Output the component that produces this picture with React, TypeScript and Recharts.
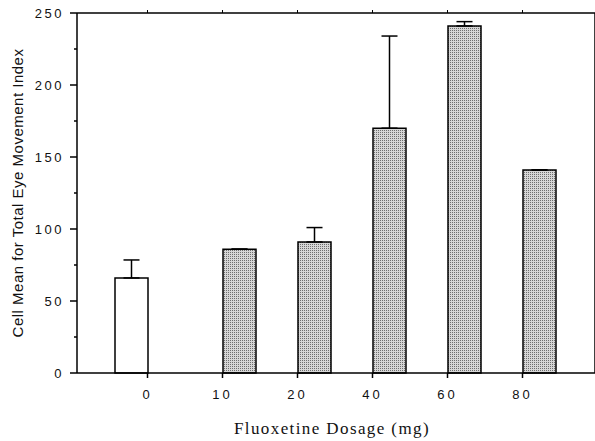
import { BarChart, Bar, XAxis, YAxis, ErrorBar, Label } from 'recharts';

// Fluoxetine dosage groups (mg)
const dosages = ['0', '10', '20', '40', '60', '80'];
// placebo group (white bar) and fluoxetine groups (stippled bars)
const placeboMeans = [66, null, null, null, null, null];
const placeboErrors = [12.5, null, null, null, null, null];
const drugMeans = [null, 86, 91, 170, 241, 141];
const drugErrors = [null, null, 10, 64, 3, null];
const yTicks = [0, 25, 50, 75, 100, 125, 150, 175, 200, 225, 250];

const data = dosages.map((dose, i) => ({
  dose,
  placebo: placeboMeans[i],
  placeboErr: [0, placeboErrors[i] ?? 0],
  drug: drugMeans[i],
  drugErr: [0, drugErrors[i] ?? 0],
}));

const SANS = '"Liberation Sans", Arial, sans-serif';
const SERIF = '"Liberation Serif", "Times New Roman", serif';

const LeftTick = (props: any) => {
  const { x, y, payload } = props;
  const major = payload.value % 50 === 0;
  const axisX = x + 13;
  return (
    <g>
      <line x1={axisX - (major ? 7 : 3)} x2={axisX} y1={y} y2={y} stroke="#000" strokeWidth={1.5} />
      {major && (
        <text x={x} y={y} dy="0.35em" textAnchor="end" fontSize={13} fontFamily={SANS} letterSpacing={2.5} fill="#111">
          {payload.value}
        </text>
      )}
    </g>
  );
};

const App = () => {
  return (
    <div style={{ position: 'absolute', left: 0, top: 0, background: '#fff' }}>
      <svg width={0} height={0} style={{ position: 'absolute' }}>
        <defs>
          <pattern id="stipple" width={2} height={2} patternUnits="userSpaceOnUse">
            <rect width={2} height={2} fill="#d6d6d6" />
            <rect width={1} height={1} fill="#6e6e6e" />
          </pattern>
        </defs>
      </svg>
      <BarChart
        width={595}
        height={441}
        data={data}
        margin={{ top: 12, right: 0, bottom: 0, left: 0 }}
        barSize={33}
        barGap={0}
      >
        <XAxis
          dataKey="dose"
          height={68}
          padding={{ left: 33, right: 35 }}
          axisLine={{ stroke: '#000', strokeWidth: 1.5 }}
          tickLine={{ stroke: '#000', strokeWidth: 1.5 }}
          tickSize={5}
          tickMargin={12}
          tick={{ fill: '#111', fontSize: 13, fontFamily: SANS, letterSpacing: 3 }}
        >
          <Label
            value="Fluoxetine Dosage (mg)"
            position="insideBottom"
            offset={7}
            dx={-4}
            style={{ fontSize: 17, fontFamily: SERIF, fill: '#111', letterSpacing: 1.4 }}
          />
        </XAxis>
        <XAxis
          xAxisId="top"
          dataKey="dose"
          orientation="top"
          height={1}
          padding={{ left: 33, right: 35 }}
          axisLine={{ stroke: '#000', strokeWidth: 1.5 }}
          tickLine={{ stroke: '#000', strokeWidth: 1 }}
          tickSize={3}
          tickFormatter={() => ''}
        />
        <YAxis
          domain={[0, 250]}
          ticks={yTicks}
          width={77}
          axisLine={{ stroke: '#000', strokeWidth: 1.5 }}
          tickLine={false}
          tickSize={0}
          tickMargin={13}
          tick={<LeftTick />}
        >
          <Label
            value="Cell Mean for Total Eye Movement Index"
            angle={-90}
            position="insideLeft"
            offset={18}
            style={{ fontSize: 15, fontFamily: SANS, fill: '#111', textAnchor: 'middle', letterSpacing: 0.5 }}
          />
        </YAxis>
        <YAxis
          yAxisId="right"
          orientation="right"
          domain={[0, 250]}
          ticks={yTicks}
          width={3}
          mirror
          axisLine={{ stroke: '#000', strokeWidth: 1.5 }}
          tickLine={{ stroke: '#000', strokeWidth: 1 }}
          tickSize={4}
          tickFormatter={() => ''}
        />
        <Bar dataKey="placebo" fill="#fff" stroke="#000" strokeWidth={1.5} isAnimationActive={false}>
          <ErrorBar dataKey="placeboErr" width={8} stroke="#000" strokeWidth={1.5} direction="y" />
        </Bar>
        <Bar dataKey="drug" fill="url(#stipple)" stroke="#000" strokeWidth={1.5} isAnimationActive={false}>
          <ErrorBar dataKey="drugErr" width={8} stroke="#000" strokeWidth={1.5} direction="y" />
        </Bar>
      </BarChart>
    </div>
  );
};

export default App;
